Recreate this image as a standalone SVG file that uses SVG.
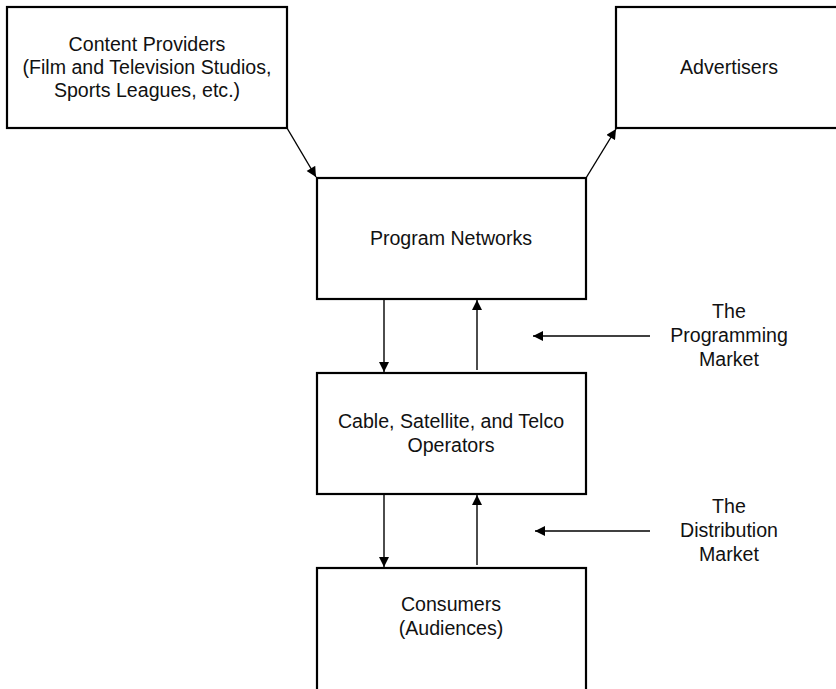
<svg xmlns="http://www.w3.org/2000/svg" width="836" height="689" viewBox="0 0 836 689">
<style>
.box{fill:#fff;stroke:#000;stroke-width:2.2}
.t{font-family:"Liberation Sans",Arial,sans-serif;font-size:19.6px;fill:#111;text-anchor:middle}
.c{stroke:#000;stroke-width:1.4;fill:none;marker-end:url(#ah)}
</style>
<defs>
<marker id="ah" viewBox="0 0 10 10" refX="10" refY="5" markerWidth="11" markerHeight="10" markerUnits="userSpaceOnUse" orient="auto">
<path d="M0,0 L10,5 L0,10 z" fill="#000"/>
</marker>
</defs>
<rect width="836" height="689" fill="#fff"/>
<g id="content-providers">
<rect class="box" x="7" y="7" width="280" height="121"/>
<text class="t" x="147" y="51">Content Providers</text>
<text class="t" x="147" y="74">(Film and Television Studios,</text>
<text class="t" x="147" y="97">Sports Leagues, etc.)</text>
</g>
<g id="advertisers">
<rect class="box" x="616" y="7" width="240" height="121"/>
<text class="t" x="729" y="74">Advertisers</text>
</g>
<g id="program-networks">
<rect class="box" x="317" y="178" width="269" height="121"/>
<text class="t" x="451" y="245">Program Networks</text>
</g>
<g id="operators">
<rect class="box" x="317" y="373" width="269" height="121"/>
<text class="t" x="451" y="428">Cable, Satellite, and Telco</text>
<text class="t" x="451" y="452">Operators</text>
</g>
<g id="consumers">
<rect class="box" x="317" y="568" width="269" height="140"/>
<text class="t" x="451" y="611">Consumers</text>
<text class="t" x="451" y="635">(Audiences)</text>
</g>
<g id="programming-market-label">
<text class="t" x="729" y="318">The</text>
<text class="t" x="729" y="342">Programming</text>
<text class="t" x="729" y="366">Market</text>
</g>
<g id="distribution-market-label">
<text class="t" x="729" y="513">The</text>
<text class="t" x="729" y="537">Distribution</text>
<text class="t" x="729" y="561">Market</text>
</g>
<g id="connectors">
<line class="c" x1="287" y1="128" x2="316" y2="177"/>
<line class="c" x1="586" y1="178" x2="616" y2="129"/>
<line class="c" x1="384" y1="299" x2="384" y2="372"/>
<line class="c" x1="477" y1="370" x2="477" y2="300"/>
<line class="c" x1="384" y1="494" x2="384" y2="567"/>
<line class="c" x1="477" y1="565" x2="477" y2="495"/>
<line class="c" x1="650" y1="336" x2="533" y2="336"/>
<line class="c" x1="650" y1="531" x2="535" y2="531"/>
</g>
</svg>
